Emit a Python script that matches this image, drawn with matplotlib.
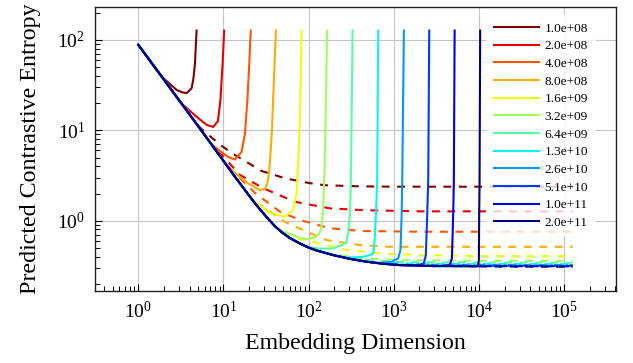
import matplotlib
matplotlib.use("Agg")
import matplotlib.pyplot as plt
from matplotlib.ticker import LogLocator, NullFormatter, FixedLocator
import numpy as np

plt.rcParams["font.family"] = "serif"
plt.rcParams["font.serif"] = ["Liberation Serif", "DejaVu Serif"]
plt.rcParams["mathtext.fontset"] = "custom"
plt.rcParams["mathtext.rm"] = "Liberation Serif"

# data sizes (legend entries)
n_samples = [1.0e8, 2.0e8, 4.0e8, 8.0e8, 1.6e9, 3.2e9, 6.4e9,
             1.28e10, 2.56e10, 5.12e10, 1.024e11, 2.048e11]

# shared lower envelope
env_d = [1, 2, 4, 7, 13.6, 23.4, 32, 40.2, 48, 60, 79, 100, 123, 194, 300,
         480, 750, 1180, 2900]
env_loss = [88.3, 36.4, 15.0, 7.3, 3.08, 1.56, 1.10, 0.87, 0.75, 0.645, 0.56,
            0.505, 0.47, 0.417, 0.38, 0.352, 0.334, 0.323, 0.315]

# solid curves: points after they leave the envelope
solid_d = [
    [1.88, 2.82, 3.3, 3.70, 4.23, 4.45, 4.63, 4.84],
    [3.09, 4.85, 6.35, 7.59, 8.61, 9.22, 9.78, 10.2],
    [7.95, 11.3, 13.6, 16.3, 17.9, 19.1, 20.2, 20.9],
    [11.5, 15.6, 19.5, 26.7, 30.7, 32.8, 34.2, 35.6, 37.1, 39.1, 41.3],
    [22, 35.1, 52.7, 65.9, 72.3, 75.5, 79, 82.7],
    [45, 79, 98, 118, 130, 140, 148, 155, 165],
    [100, 136, 194, 246, 279, 293, 305, 314, 328],
    [267, 350, 437, 525, 573, 590, 617, 638, 656],
    [680, 948, 1127, 1197, 1236, 1256, 1313],
    [1545, 2027, 2255, 2377, 2466, 2535, 2606],
    [3475, 4550, 4810, 4977, 5070, 5176],
    [9700, 9970, 10050, 10160, 10330],
]
solid_loss = [
    [39.3, 28.0, 26.3, 25.8, 29.3, 38.0, 55.4, 127],
    [20.5, 14.1, 11.5, 10.9, 12.7, 21.7, 55.7, 127],
    [6.53, 5.08, 4.76, 5.77, 9.24, 21.7, 60, 127],
    [3.9, 3.05, 2.59, 2.19, 2.24, 2.61, 3.37, 5.34, 10.1, 36.1, 127],
    [1.70, 1.22, 1.11, 1.31, 2.01, 4.70, 13.0, 127],
    [0.80, 0.645, 0.625, 0.66, 0.70, 0.80, 1.31, 4.7, 127],
    [0.51, 0.49, 0.495, 0.538, 0.585, 0.75, 1.16, 2.82, 127],
    [0.395, 0.394, 0.399, 0.417, 0.435, 0.54, 1.16, 2.82, 127],
    [0.340, 0.353, 0.384, 0.474, 1.16, 2.82, 127],
    [0.321, 0.327, 0.337, 0.417, 1.16, 2.82, 127],
    [0.315, 0.323, 0.386, 1.16, 2.82, 127],
    [0.312, 0.367, 1.16, 2.82, 127],
]

# dashed curves
dash_d = [
    [5.0, 6.07, 9.52, 13.6, 28.1, 52.7, 104, 155, 400, 1000, 1.26e5],
    [8.5, 9.6, 15.6, 29.3, 69, 178, 433, 2040, 1.26e5],
    [11.5, 23.4, 46, 79, 178, 433, 2040, 1.26e5],
    [24, 28.3, 52.7, 104, 164, 398, 894, 1.26e5],
    [50, 60.3, 112, 279, 687, 2040, 10240, 1.26e5],
    [155, 400, 1180, 10240, 1.26e5],
    [305, 1180, 10240, 1.26e5],
    [603, 3000, 1.26e5],
    [1180, 1.26e5],
    [2440, 1.26e5],
    [4950, 1.26e5],
    [10000, 1.26e5],
]
dash_loss = [
    [11.3, 9.6, 6.72, 5.34, 3.55, 2.95, 2.6, 2.47, 2.40, 2.38, 2.38],
    [5.75, 5.34, 3.21, 2.29, 1.62, 1.37, 1.31, 1.27, 1.27],
    [3.95, 2.03, 1.26, 1.02, 0.824, 0.769, 0.756, 0.756],
    [1.53, 1.46, 0.97, 0.73, 0.61, 0.538, 0.515, 0.515],
    [0.74, 0.665, 0.581, 0.474, 0.435, 0.417, 0.406, 0.406],
    [0.439, 0.386, 0.367, 0.36, 0.36],
    [0.377, 0.349, 0.345, 0.343],
    [0.344, 0.333, 0.331],
    [0.327, 0.323],
    [0.319, 0.317],
    [0.315, 0.313],
    [0.312, 0.310],
]

x_ticks = [1e0, 1e1, 1e2, 1e3, 1e4, 1e5]
y_ticks = [1e0, 1e1, 1e2]

colors = plt.cm.jet(np.linspace(1, 0, len(n_samples)))

fig = plt.figure(figsize=(6.33, 3.63), dpi=100)
ax = fig.add_axes([0.150, 0.199, 0.823, 0.782])

for i, n in enumerate(n_samples):
    start = solid_d[i][0]
    xs = [d for d in env_d if d < start] + solid_d[i]
    ys = [l for d, l in zip(env_d, env_loss) if d < start] + solid_loss[i]
    ax.plot(xs, ys, color=colors[i], lw=1.5, label=f"{n:.1e}")
    ax.plot(dash_d[i], dash_loss[i], color=colors[i], lw=1.5, dashes=(3.8, 3.6))

ax.set_xscale("log")
ax.set_yscale("log")
ax.set_xlim(0.31, 4.05e5)
ax.set_ylim(0.168, 232)

ax.xaxis.set_major_locator(FixedLocator(x_ticks))
ax.yaxis.set_major_locator(FixedLocator(y_ticks))
ax.xaxis.set_minor_locator(LogLocator(base=10, subs=np.arange(2, 10), numticks=50))
ax.yaxis.set_minor_locator(LogLocator(base=10, subs=np.arange(2, 10), numticks=50))
ax.xaxis.set_minor_formatter(NullFormatter())
ax.yaxis.set_minor_formatter(NullFormatter())

ax.grid(True, which="major", color="#c4c4c4", lw=0.8)
ax.set_axisbelow(True)
ax.tick_params(which="both", direction="in", top=False, right=False,
               labelsize=14, pad=7)
ax.tick_params(which="major", length=5, width=0.8)
ax.tick_params(which="minor", length=3.5, width=0.7)
for s in ax.spines.values():
    s.set_linewidth(1.0)
    s.set_color("#222222")

ax.set_xlabel("Embedding Dimension", fontsize=17.2, labelpad=8)
ax.set_ylabel("Predicted Contrastive Entropy", fontsize=17.3, labelpad=12)

leg = ax.legend(loc="upper right", bbox_to_anchor=(0.962, 0.974),
                borderaxespad=0, fontsize=9.6, frameon=True, framealpha=0.8,
                edgecolor="none", facecolor="white", fancybox=False,
                handlelength=3.4, handletextpad=0.4, labelspacing=0.4,
                borderpad=0.6)

fig.savefig("out.png", dpi=100)
